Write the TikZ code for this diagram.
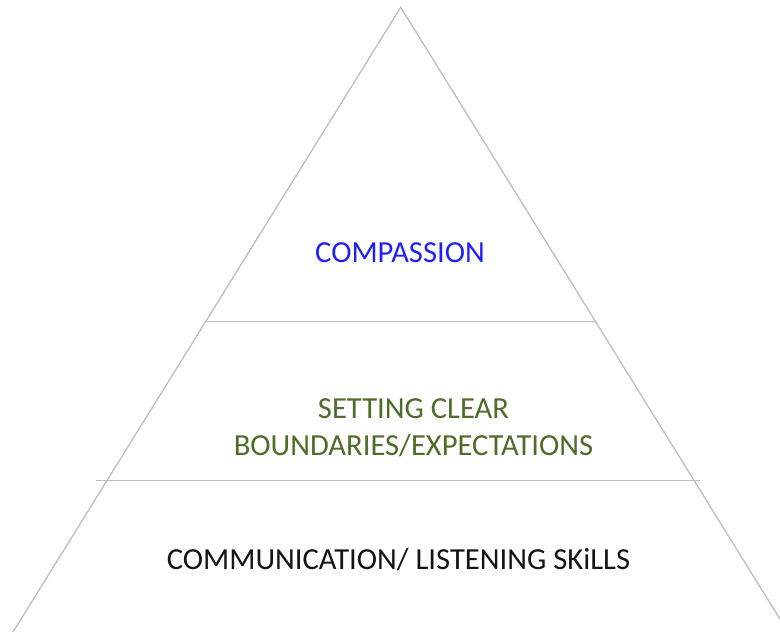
\documentclass[tikz,border=0pt]{standalone}
\usepackage{fontspec}
\setmainfont{Carlito}
\definecolor{edgegray}{RGB}{190,190,190}
\definecolor{topblue}{RGB}{32,32,250}
\definecolor{midgreen}{RGB}{79,108,40}
\definecolor{basetext}{RGB}{20,20,20}
\begin{document}
\begin{tikzpicture}[x=1pt,y=-1pt,
  edge/.style={draw=edgegray,line width=1.3pt},
  tiertext/.style={font=\fontsize{30.6}{37}\selectfont,align=center,inner sep=0pt}]
\useasboundingbox (0,0) rectangle (780,632);
\begin{scope}
\clip (0,0) rectangle (780,632);
\coordinate (apex) at (400.7,7.3);
\coordinate (bl) at (13,632);
\coordinate (br) at (788,632);
\draw[edge] (bl) -- (apex) -- (br);
\coordinate (l1a) at (206,321.7);
\coordinate (l1b) at (596,321.7);
\draw[edge] (l1a) -- (l1b);
\coordinate (l2a) at (96,480.7);
\coordinate (l2b) at (700,480.7);
\draw[edge] (l2a) -- (l2b);
\end{scope}
\node[tiertext,text=topblue] (top) at (400,253) {COMPASSION};
\node[tiertext,text=midgreen] (mid) at (413.5,428) {SETTING CLEAR\\BOUNDARIES/EXPECTATIONS};
\node[tiertext,text=basetext] (base) at (398.5,560) {COMMUNICATION/ LISTENING SKiLLS};
\end{tikzpicture}
\end{document}
